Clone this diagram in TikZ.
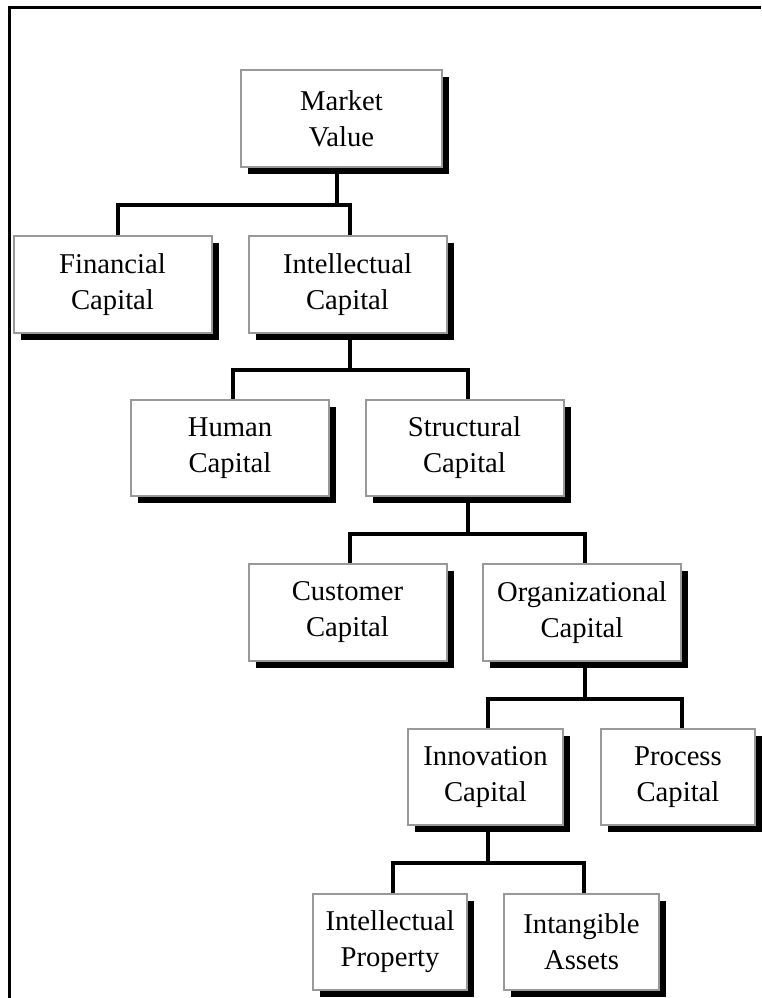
\documentclass[tikz,border=0pt]{standalone}
\usepackage{fontspec}
\setmainfont{Liberation Serif}
\usetikzlibrary{shadows}
\begin{document}
\begin{tikzpicture}[x=0.75pt,y=-0.75pt,
  box/.style={draw=black!40, line width=1.5pt, fill=white, inner sep=0pt,
    minimum height=72.5pt, align=center,
    font=\fontsize{21.5}{27}\selectfont,
    drop shadow={shadow xshift=5.25pt, shadow yshift=-5.25pt, fill=black, opacity=1}},
  bigbox/.style={box, minimum width=148.5pt},
  smallbox/.style={box, minimum width=116pt},
  conn/.style={line width=2.5pt, line join=miter}]
\useasboundingbox (0,0) rectangle (761,998);
\draw[line width=2pt] (9.5,998) -- (9.5,7.5) -- (761,7.5);

% junction points
\coordinate (j1) at (337,205);
\coordinate (j2) at (350,370);
\coordinate (j3) at (468,534);
\coordinate (j4) at (585,699);
\coordinate (j5) at (488,863);

% nodes
\node[box, minimum width=151pt] (mv) at (341.5,118.5) {Market\\Value};
\node[bigbox] (fin) at (112.5,284.5) {Financial\\Capital};
\node[bigbox] (int) at (347.5,284.5) {Intellectual\\Capital};
\node[bigbox] (hum) at (230,448) {Human\\Capital};
\node[bigbox] (str) at (464.5,448) {Structural\\Capital};
\node[bigbox] (cus) at (347.5,612.5) {Customer\\Capital};
\node[bigbox] (org) at (582,612.5) {Organizational\\Capital};
\node[smallbox] (inn) at (485.5,777) {Innovation\\Capital};
\node[smallbox] (pro) at (678,777) {Process\\Capital};
\node[smallbox] (ip) at (390,942) {Intellectual\\Property};
\node[smallbox] (ia) at (581.5,942) {Intangible\\Assets};

% connectors
\begin{scope}[on background layer/.style={}]
\end{scope}
\draw[conn] (j1 |- mv.south) -- ([yshift=-1pt]j1);
\draw[conn] ([xshift=4.1pt]fin.north) |- (j1) -| ([xshift=1.9pt]int.north);
\draw[conn] (j2 |- int.south) -- ([yshift=-1pt]j2);
\draw[conn] ([xshift=2.25pt]hum.north) |- (j2) -| ([xshift=2.6pt]str.north);
\draw[conn] (j3 |- str.south) -- ([yshift=-1pt]j3);
\draw[conn] ([xshift=1.9pt]cus.north) |- (j3) -| ([xshift=2.25pt]org.north);
\draw[conn] (j4 |- org.south) -- ([yshift=-1pt]j4);
\draw[conn] ([xshift=1.9pt]inn.north) |- (j4) -| ([xshift=3pt]pro.north);
\draw[conn] (j5 |- inn.south) -- ([yshift=-1pt]j5);
\draw[conn] ([xshift=2.25pt]ip.north) |- (j5) -| ([xshift=1.9pt]ia.north);
\end{tikzpicture}
\end{document}
